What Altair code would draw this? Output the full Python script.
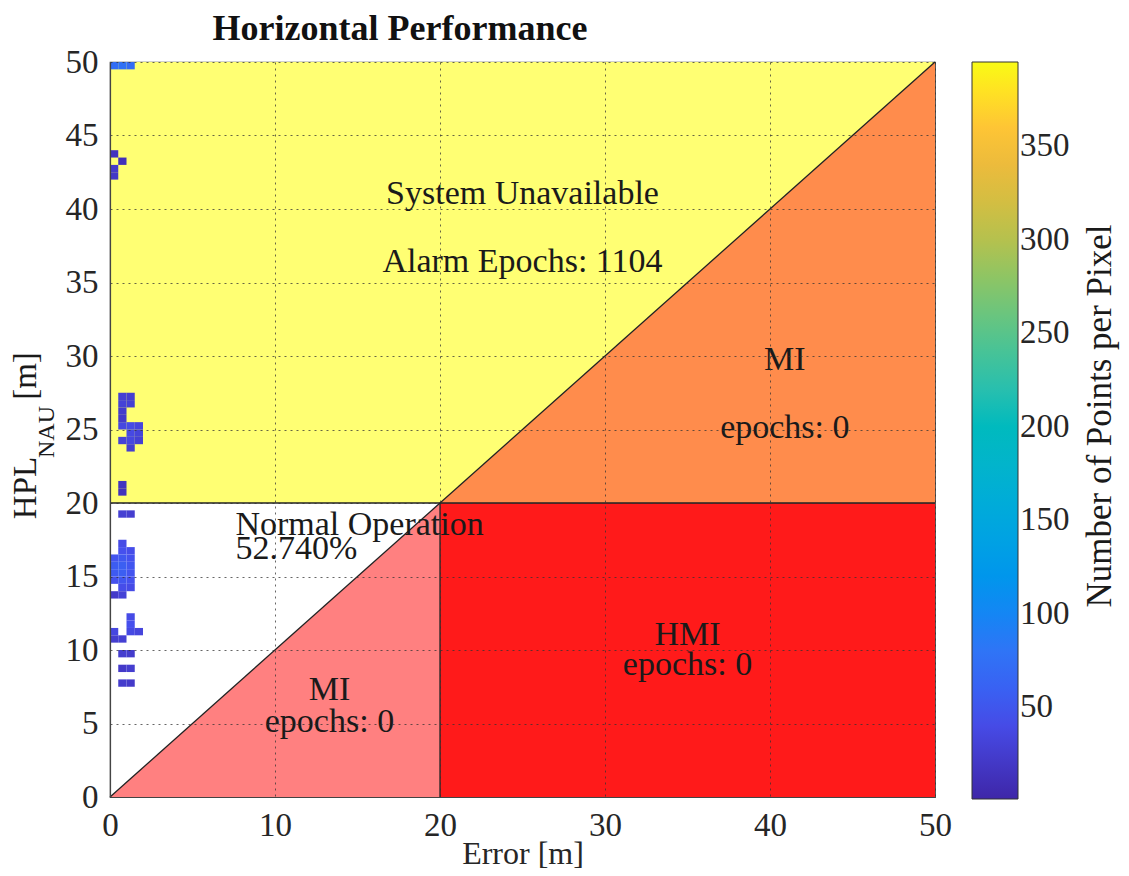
import altair as alt
import pandas as pd

# ---------------- data ----------------
AL = 20          # alert limit [m]
AX_MAX = 50      # axis extent [m]
BIN = 0.5        # pixel size [m]

# 2-D histogram cells (lower-left corner of each pixel, counts)
cell_x = [0.0, 0.5, 1.0,
          0.0, 0.5, 0.0, 0.0,
          0.5, 1.0, 0.5, 1.0, 0.5, 0.5,
          0.5, 1.0, 1.5, 1.0, 1.5, 0.5, 1.0, 1.5, 1.0,
          0.5, 0.5,
          0.5, 1.0,
          0.5,
          0.5, 1.0,
          0.0, 0.5, 1.0,
          0.0, 0.5, 1.0,
          0.0, 0.5, 1.0,
          0.0, 0.5, 1.0,
          0.5, 1.0,
          0.0, 0.5,
          1.0, 1.0,
          0.0, 1.0, 1.5,
          0.0, 0.5,
          0.5, 1.0, 0.5, 1.0, 0.5, 1.0]
cell_y = [49.5, 49.5, 49.5,
          43.5, 43.0, 42.5, 42.0,
          27.0, 27.0, 26.5, 26.5, 26.0, 25.5,
          25.0, 25.0, 25.0, 24.5, 24.5, 24.0, 24.0, 24.0, 23.5,
          21.0, 20.5,
          19.0, 19.0,
          17.0,
          16.5, 16.5,
          16.0, 16.0, 16.0,
          15.5, 15.5, 15.5,
          15.0, 15.0, 15.0,
          14.5, 14.5, 14.5,
          14.0, 14.0,
          13.5, 13.5,
          12.0, 11.5,
          11.0, 11.0, 11.0,
          10.5, 10.5,
          9.5, 9.5, 8.5, 8.5, 7.5, 7.5]
cell_n = [72, 76, 70,
          15, 12, 22, 20,
          28, 26, 30, 28, 24, 22,
          36, 40, 34, 38, 32, 30, 36, 28, 26,
          16, 14,
          28, 26,
          40,
          45, 42,
          48, 52, 46,
          55, 58, 50,
          54, 58, 48,
          46, 50, 46,
          42, 40,
          22, 30,
          40, 44,
          36, 38, 34,
          26, 28,
          26, 24, 22, 26, 24, 22]

# text annotations (data coordinates)
ann_text = ["System Unavailable", "Alarm Epochs: 1104", "MI", "epochs: 0",
            "Normal Operation", "52.740%", "HMI", "epochs: 0", "MI", "epochs: 0"]
ann_x = [25.0, 25.0, 40.9, 40.9, 7.6, 7.6, 35.0, 35.0, 13.3, 13.3]
ann_y = [41.0, 36.4, 29.7, 25.1, 18.5, 16.9, 11.0, 9.0, 7.3, 5.1]
ann_align = ["center", "center", "center", "center", "left", "left",
             "center", "center", "center", "center"]

cbar_ticks = [50, 100, 150, 200, 250, 300, 350]
CNT_MIN, CNT_MAX = 1, 395
parula = ["#3e26a8", "#4650ee", "#2e7cf6", "#1a9ee6", "#0bb3cd",
          "#28bfae", "#70c57a", "#c4bf48", "#fbb83c", "#f9fb15"]

FONT = "Liberation Serif"

# ---------------- tables ----------------
cells = pd.DataFrame({"x": cell_x, "y": cell_y, "n": cell_n})
cells["x2"] = cells["x"] + BIN
cells["y2"] = cells["y"] + BIN

yellow = pd.DataFrame({"x": [0, AL, AX_MAX], "y": [AL, AL, AX_MAX], "y2": [AX_MAX] * 3})
orange = pd.DataFrame({"x": [AL, AX_MAX], "y": [AL, AL], "y2": [AL, AX_MAX]})
pink = pd.DataFrame({"x": [0, AL], "y": [0, 0], "y2": [0, AL]})
red = pd.DataFrame({"x": [AL], "x2": [AX_MAX], "y": [0], "y2": [AL]})
edges = pd.DataFrame({"x": [0, 0, AL], "x2": [AX_MAX, AX_MAX, AL],
                      "y": [0, AL, 0], "y2": [AX_MAX, AL, AL]})
ann = pd.DataFrame({"t": ann_text, "x": ann_x, "y": ann_y, "a": ann_align})

xs = alt.Scale(domain=[0, AX_MAX], nice=False, zero=False)
ys = alt.Scale(domain=[0, AX_MAX], nice=False, zero=False)
xaxis = alt.Axis(values=[0, 10, 20, 30, 40, 50], title="Error [m]", zindex=1,
                 labelFlush=False, grid=True)
yaxis = alt.Axis(values=[0, 5, 10, 15, 20, 25, 30, 35, 40, 45, 50], title="",
                 zindex=1, labelFlush=False, grid=True)


def X(f="x"):
    return alt.X(f"{f}:Q", scale=xs, axis=xaxis)


def Y(f="y"):
    return alt.Y(f"{f}:Q", scale=ys, axis=yaxis)


l_yellow = alt.Chart(yellow).mark_area(color="#ffff73", opacity=1).encode(
    x=X(), y=Y(), y2="y2:Q")
l_orange = alt.Chart(orange).mark_area(color="#ff8c4c", opacity=1).encode(
    x=X(), y=Y(), y2="y2:Q")
l_pink = alt.Chart(pink).mark_area(color="#ff8080", opacity=1).encode(
    x=X(), y=Y(), y2="y2:Q")
l_red = alt.Chart(red).mark_rect(color="#ff1a1a").encode(
    x=X(), x2="x2:Q", y=Y(), y2="y2:Q")
l_edges = alt.Chart(edges).mark_rule(color="#222222", strokeWidth=1.3).encode(
    x=X(), x2="x2:Q", y=Y(), y2="y2:Q")

l_cells = alt.Chart(cells).mark_rect().encode(
    x=X(), x2="x2:Q", y=Y(), y2="y2:Q",
    color=alt.Color("n:Q",
                    scale=alt.Scale(domain=[CNT_MIN, CNT_MAX], range=parula,
                                    type="linear", nice=False, zero=False),
                    legend=alt.Legend(title="", values=cbar_ticks,
                                      gradientLength=737, gradientThickness=46,
                                      direction="vertical")))

l_ann_c = alt.Chart(ann[ann["a"] == "center"]).mark_text(
    font=FONT, fontSize=34, color="#1a1a1a", align="center", baseline="middle"
).encode(x=X(), y=Y(), text="t:N")
l_ann_l = alt.Chart(ann[ann["a"] == "left"]).mark_text(
    font=FONT, fontSize=34, color="#1a1a1a", align="left", baseline="middle"
).encode(x=X(), y=Y(), text="t:N")

one = pd.DataFrame({"k": [0]})
t_title = alt.Chart(one).mark_text(
    text="Horizontal Performance", font=FONT, fontSize=36, fontWeight="bold",
    color="#111111", align="center", baseline="middle"
).encode(x=alt.value(290), y=alt.value(-33))
t_hpl = alt.Chart(one).mark_text(
    text="HPL", font=FONT, fontSize=33, color="#1a1a1a", angle=270,
    align="center", baseline="middle"
).encode(x=alt.value(-84), y=alt.value(426))
t_nau = alt.Chart(one).mark_text(
    text="NAU", font=FONT, fontSize=24, color="#1a1a1a", angle=270,
    align="center", baseline="middle"
).encode(x=alt.value(-63), y=alt.value(370))
t_m = alt.Chart(one).mark_text(
    text="[m]", font=FONT, fontSize=33, color="#1a1a1a", angle=270,
    align="center", baseline="middle"
).encode(x=alt.value(-84), y=alt.value(314))
t_cbar = alt.Chart(one).mark_text(
    text="Number of Points per Pixel", font=FONT, fontSize=35, color="#1a1a1a",
    angle=270, align="center", baseline="middle"
).encode(x=alt.value(990), y=alt.value(354))

chart = alt.layer(
    l_yellow, l_orange, l_pink, l_red, l_edges, l_cells,
    l_ann_c, l_ann_l, t_title, t_hpl, t_nau, t_m, t_cbar
).properties(
    width=825, height=735,
    autosize=alt.AutoSizeParams(type="none"),
    padding={"left": 102, "top": 54, "right": 185, "bottom": 78},
).configure_view(
    stroke="#444444", strokeWidth=1.2
).configure_axis(
    labelFont=FONT, labelFontSize=33, labelColor="#262626",
    titleFont=FONT, titleFontSize=32, titleColor="#262626", titleFontWeight="normal",
    gridColor="#333333", gridDash=[2, 4], gridOpacity=0.75, gridWidth=1,
    ticks=False, domainColor="#444444", domainWidth=1.2,
).configure_axisX(
    labelPadding=12, titlePadding=-4,
).configure_axisY(
    labelPadding=12,
).configure_legend(
    orient="right", offset=37, padding=0,
    gradientVerticalMaxLength=737,
    gradientStrokeColor="#333333", gradientStrokeWidth=1,
    labelFont=FONT, labelFontSize=33, labelColor="#262626", labelOffset=10,
    labelOverlap=False,
)

chart.save("out.html", embed_options={"renderer": "svg", "actions": False})
